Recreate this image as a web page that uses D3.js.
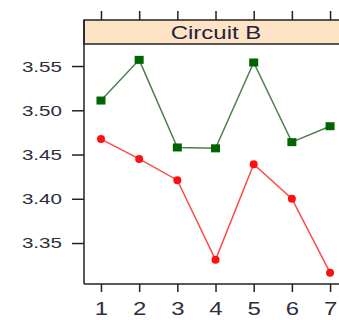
<!DOCTYPE html>
<html>
<head>
<meta charset="utf-8">
<title>Circuit B</title>
<script src="https://cdn.jsdelivr.net/npm/d3@7"></script>
<style>
body { margin: 0; background: #fff; }
text { font-family: "Liberation Sans", Arial, sans-serif; }
</style>
</head>
<body>
<svg width="339" height="320" id="chart"></svg>
<script>
var stripLabel = "Circuit B";
var runs = [1, 2, 3, 4, 5, 6, 7];
var greenValues = [3.511, 3.557, 3.458, 3.457, 3.554, 3.464, 3.482];
var redValues = [3.4675, 3.445, 3.421, 3.331, 3.439, 3.400, 3.3165];
var yTicks = [3.35, 3.40, 3.45, 3.50, 3.55];

var svg = d3.select("#chart");
var panelLeft = 84, panelRight = 348, panelTop = 20, stripH = 24, panelBottom = 284;
var stretch = 1.33; // the picture is a bit wider than tall

var x = d3.scaleLinear().domain([0.555, 7.47]).range([panelLeft, panelRight]);
var y = d3.scaleLinear().domain([3.3037, 3.5749]).range([panelBottom, panelTop + stripH]);

function widen(sel) {
	sel.each(function() {
		var w = this.getComputedTextLength();
		d3.select(this).attr("textLength", w * stretch).attr("lengthAdjust", "spacingAndGlyphs");
	});
}

// strip
svg.append("rect").attr("x", panelLeft).attr("y", panelTop).attr("width", panelRight - panelLeft).attr("height", stripH)
	.attr("fill", "#ffe3c6").attr("stroke", "#222").attr("stroke-width", 1.5);
svg.append("text").attr("x", (panelLeft + panelRight) / 2).attr("y", panelTop + 19).attr("text-anchor", "middle")
	.attr("font-size", 18).attr("fill", "#22223a").text(stripLabel).call(widen);

// panel lines
svg.append("line").attr("x1", panelLeft).attr("x2", panelLeft).attr("y1", panelTop).attr("y2", panelBottom)
	.attr("stroke", "#222").attr("stroke-width", 1.5);
svg.append("line").attr("x1", panelLeft).attr("x2", panelRight).attr("y1", panelBottom).attr("y2", panelBottom)
	.attr("stroke", "#222").attr("stroke-width", 1.5);

// axes
var xb = svg.append("g").attr("transform", "translate(0," + panelBottom + ")")
	.call(d3.axisBottom(x).tickValues(runs).tickSize(8).tickPadding(10).tickFormat(d3.format("d")));
var xt = svg.append("g").attr("transform", "translate(0," + panelTop + ")")
	.call(d3.axisTop(x).tickValues(runs).tickSize(9).tickFormat(""));
var yl = svg.append("g").attr("transform", "translate(" + panelLeft + ",0)")
	.call(d3.axisLeft(y).tickValues(yTicks).tickSize(12).tickPadding(10).tickFormat(d3.format(".2f")));
[xb, xt, yl].forEach(function(a) {
	a.attr("font-family", "'Liberation Sans', Arial, sans-serif");
	a.select(".domain").remove();
	a.selectAll("line").attr("stroke", "#222").attr("stroke-width", 1.5);
	a.selectAll("text").attr("fill", "#2e2e3e");
});
xb.attr("font-size", 18);
yl.attr("font-size", 15.5);
xb.selectAll("text").call(widen);
yl.selectAll("text").call(widen);

var line = d3.line().x(function(d, i) { return x(runs[i]); }).y(function(d) { return y(d); });

svg.append("path").datum(greenValues).attr("d", line).attr("fill", "none")
	.attr("stroke", "#4e7e4e").attr("stroke-width", 1.5);
svg.selectAll(".sq").data(greenValues).enter().append("rect")
	.attr("x", function(d, i) { return x(runs[i]) - 4.5; })
	.attr("y", function(d) { return y(d) - 4; })
	.attr("width", 9).attr("height", 8).attr("fill", "#006400");

svg.append("path").datum(redValues).attr("d", line).attr("fill", "none")
	.attr("stroke", "#ff4a4a").attr("stroke-width", 1.5);
svg.selectAll(".dot").data(redValues).enter().append("circle")
	.attr("cx", function(d, i) { return x(runs[i]); })
	.attr("cy", function(d) { return y(d); })
	.attr("r", 4).attr("fill", "#ff1010");
</script>
</body>
</html>
